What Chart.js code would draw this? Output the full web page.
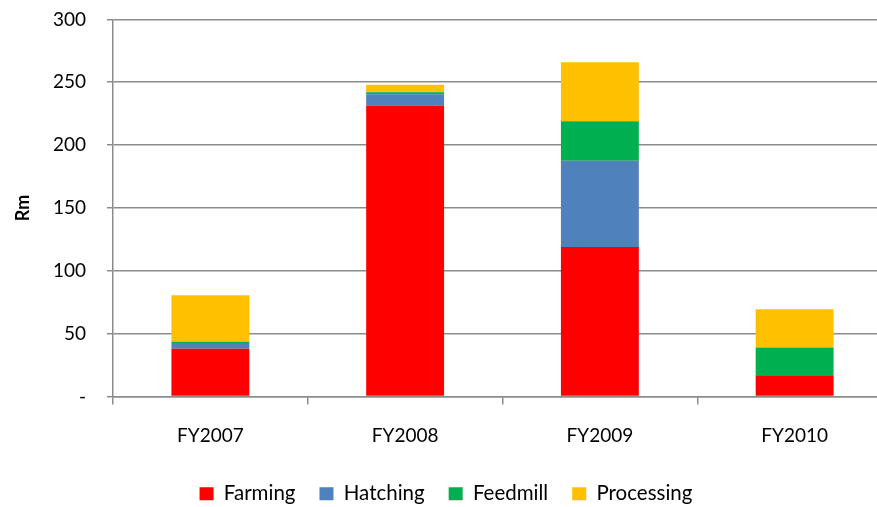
<!DOCTYPE html>
<html>
<head>
<meta charset="utf-8">
<script src="https://cdn.jsdelivr.net/npm/chart.js@4/dist/chart.umd.min.js"></script>
<style>
  html, body { margin: 0; padding: 0; background: #fff; overflow: hidden; width: 877px; height: 507px; }
  #wrap { position: absolute; left: 0; top: -13px; width: 892px; height: 527px; }
</style>
</head>
<body>
<div id="wrap"><canvas id="c" width="892" height="527"></canvas></div>
<script>
const categories = ['FY2007', 'FY2008', 'FY2009', 'FY2010'];
const farming    = [38, 231.5, 119, 17];
const hatching   = [4.5, 9, 68.5, 0];
const feedmill   = [1, 1.5, 31.5, 22];
const processing = [37, 6, 47, 30.5];
const yTicks = [0, 50, 100, 150, 200, 250, 300];
const yTitle = 'Rm';

const FONT = 'Lato, "Open Sans", sans-serif';
const GRID = '#8c8c8c';

const ds = (label, data, color) => ({
  label, data, backgroundColor: color, borderWidth: 0,
  barPercentage: 0.4, categoryPercentage: 1.0
});

new Chart(document.getElementById('c'), {
  type: 'bar',
  data: {
    labels: categories,
    datasets: [
      ds('Farming', farming, '#FF0000'),
      ds('Hatching', hatching, '#4F81BD'),
      ds('Feedmill', feedmill, '#00B050'),
      ds('Processing', processing, '#FFC000')
    ]
  },
  options: {
    responsive: false,
    animation: false,
    devicePixelRatio: 1,
    layout: { padding: { top: 6, left: 0, right: 0, bottom: 0 } },
    plugins: {
      tooltip: { enabled: false },
      legend: {
        position: 'bottom',
        labels: {
          boxWidth: 14, boxHeight: 13, padding: 24,
          color: '#000', font: { family: FONT, size: 20.5 }
        }
      }
    },
    scales: {
      x: {
        stacked: true,
        offset: true,
        grid: { display: true, drawOnChartArea: false, drawTicks: true, tickLength: 8, color: GRID, lineWidth: 1.5, offset: true },
        border: { display: true, color: GRID, width: 1.5 },
        ticks: { color: '#000', font: { family: FONT, size: 19 }, padding: 20, maxRotation: 0 },
        afterFit: s => { s.height = 63; }
      },
      y: {
        stacked: true,
        min: 0, max: 300,
        afterBuildTicks: s => { s.ticks = yTicks.map(v => ({ value: v })); },
        grid: { color: GRID, lineWidth: 1.5, drawTicks: true, tickLength: 6 },
        border: { display: true, color: GRID, width: 1.5 },
        ticks: {
          color: '#000', font: { family: FONT, size: 19 }, padding: 21,
          callback: v => v === 0 ? '-' : String(v)
        },
        title: {
          display: true, text: yTitle, color: '#000',
          font: { family: FONT, size: 18, weight: 'bold' },
          padding: { top: 12, bottom: 0 }
        },
        afterFit: s => { s.width = 113; }
      }
    }
  }
});
</script>
</body>
</html>
